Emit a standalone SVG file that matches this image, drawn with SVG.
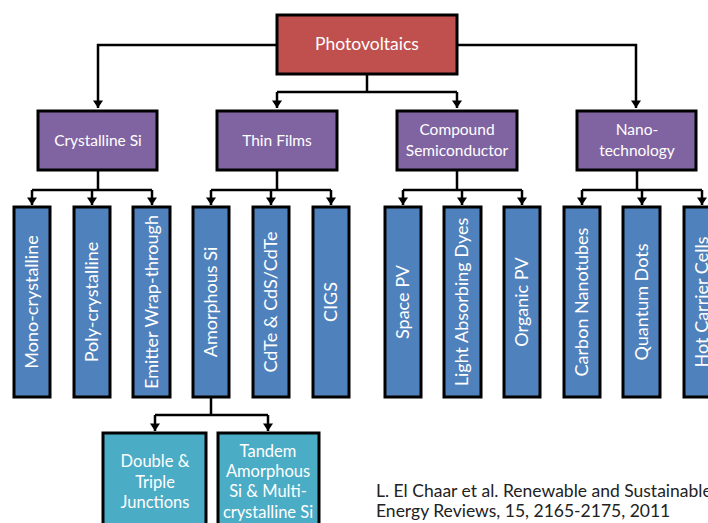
<svg xmlns="http://www.w3.org/2000/svg" width="708" height="523" viewBox="0 0 708 523">
<defs>
<marker id="arr" markerUnits="userSpaceOnUse" markerWidth="10" markerHeight="10" refX="4" refY="7" orient="0" viewBox="0 0 8 8">
<path d="M0,1 L8,1 L4,7 Z" fill="#000"/>
</marker>
<style>
.box{stroke:#000;stroke-width:3}
.red{fill:#C0504D}
.pur{fill:#8064A2}
.blu{fill:#4F81BD}
.cya{fill:#4BACC6}
.t{font-family:Lato,"Liberation Sans",sans-serif;fill:#fff;text-anchor:middle}
.v{font-size:18px}
.c{fill:none;stroke:#000;stroke-width:2.5}
.cite{font-family:Lato,"Liberation Sans",sans-serif;fill:#222;font-size:17.5px}
</style>
</defs>
<rect width="708" height="523" fill="#fff"/>
<g id="connectors" class="c">
<path d="M277,45 H98 V108" marker-end="url(#arr)"/>
<path d="M457,45 H636 V108" marker-end="url(#arr)"/>
<path d="M367,74 V92"/>
<path d="M277,92 H457"/>
<path d="M277,92 V108" marker-end="url(#arr)"/>
<path d="M457,92 V108" marker-end="url(#arr)"/>
<path d="M98,170 V190 M32,190 H152"/>
<path d="M32,190 V205" marker-end="url(#arr)"/>
<path d="M92,190 V205" marker-end="url(#arr)"/>
<path d="M152,190 V205" marker-end="url(#arr)"/>
<path d="M277,170 V190 M211,190 H331"/>
<path d="M211,190 V205" marker-end="url(#arr)"/>
<path d="M271,190 V205" marker-end="url(#arr)"/>
<path d="M331,190 V205" marker-end="url(#arr)"/>
<path d="M457,170 V190 M403,190 H522"/>
<path d="M403,190 V205" marker-end="url(#arr)"/>
<path d="M462,190 V205" marker-end="url(#arr)"/>
<path d="M522,190 V205" marker-end="url(#arr)"/>
<path d="M637,170 V190 M582,190 H702"/>
<path d="M582,190 V205" marker-end="url(#arr)"/>
<path d="M642,190 V205" marker-end="url(#arr)"/>
<path d="M702,190 V205" marker-end="url(#arr)"/>
<path d="M211,397 V415 M155,415 H268"/>
<path d="M155,415 V431" marker-end="url(#arr)"/>
<path d="M268,415 V431" marker-end="url(#arr)"/>
</g>
<g id="photovoltaics">
<rect class="box red" x="277" y="15" width="180" height="59"/>
<text class="t" x="367" y="50" font-size="17.5">Photovoltaics</text>
</g>
<g id="crystalline-si">
<rect class="box pur" x="38" y="111" width="119" height="59"/>
<text class="t" x="98" y="146" font-size="15.5">Crystalline Si</text>
</g>
<g id="thin-films">
<rect class="box pur" x="217" y="111" width="120" height="59"/>
<text class="t" x="277" y="146" font-size="15.5">Thin Films</text>
</g>
<g id="compound">
<rect class="box pur" x="397" y="111" width="120" height="59"/>
<text class="t" x="457" y="135" font-size="15.5">Compound</text>
<text class="t" x="457" y="156" font-size="15.5">Semiconductor</text>
</g>
<g id="nano">
<rect class="box pur" x="577" y="111" width="119" height="59"/>
<text class="t" x="637" y="135" font-size="15.5">Nano-</text>
<text class="t" x="637" y="156" font-size="15.5">technology</text>
</g>
<g id="mono">
<rect class="box blu" x="14" y="207" width="36" height="190"/>
<text class="t v" transform="translate(32,302) rotate(-90)" dy="0.36em">Mono-crystalline</text>
</g>
<g id="poly">
<rect class="box blu" x="74" y="207" width="36" height="190"/>
<text class="t v" transform="translate(92,302) rotate(-90)" dy="0.36em">Poly-crystalline</text>
</g>
<g id="emitter">
<rect class="box blu" x="133" y="207" width="37" height="190"/>
<text class="t v" transform="translate(152,302) rotate(-90)" dy="0.36em">Emitter Wrap-through</text>
</g>
<g id="amorphous">
<rect class="box blu" x="193" y="207" width="36" height="190"/>
<text class="t v" transform="translate(211,302) rotate(-90)" dy="0.36em">Amorphous Si</text>
</g>
<g id="cdte">
<rect class="box blu" x="253" y="207" width="36" height="190"/>
<text class="t v" transform="translate(271,302) rotate(-90)" dy="0.36em">CdTe &amp; CdS/CdTe</text>
</g>
<g id="cigs">
<rect class="box blu" x="313" y="207" width="36" height="190"/>
<text class="t v" transform="translate(331,302) rotate(-90)" dy="0.36em">CIGS</text>
</g>
<g id="space-pv">
<rect class="box blu" x="385" y="207" width="36" height="190"/>
<text class="t v" transform="translate(403,302) rotate(-90)" dy="0.36em">Space PV</text>
</g>
<g id="dyes">
<rect class="box blu" x="444" y="207" width="37" height="190"/>
<text class="t v" transform="translate(462,302) rotate(-90)" dy="0.36em">Light Absorbing Dyes</text>
</g>
<g id="organic-pv">
<rect class="box blu" x="504" y="207" width="36" height="190"/>
<text class="t v" transform="translate(522,302) rotate(-90)" dy="0.36em">Organic PV</text>
</g>
<g id="nanotubes">
<rect class="box blu" x="564" y="207" width="36" height="190"/>
<text class="t v" transform="translate(582,302) rotate(-90)" dy="0.36em">Carbon Nanotubes</text>
</g>
<g id="quantum-dots">
<rect class="box blu" x="623" y="207" width="37" height="190"/>
<text class="t v" transform="translate(642,302) rotate(-90)" dy="0.36em">Quantum Dots</text>
</g>
<g id="hot-carrier">
<rect class="box blu" x="684" y="207" width="36" height="190"/>
<text class="t v" transform="translate(702,302) rotate(-90)" dy="0.36em">Hot Carrier Cells</text>
</g>
<g id="double-triple">
<rect class="box cya" x="103" y="433" width="103" height="100"/>
<text class="t" x="155" y="467" font-size="16.5">Double &amp;</text>
<text class="t" x="155" y="488" font-size="16.5">Triple</text>
<text class="t" x="155" y="508" font-size="16.5">Junctions</text>
</g>
<g id="tandem">
<rect class="box cya" x="218" y="433" width="101" height="100"/>
<text class="t" x="268" y="457" font-size="16.5">Tandem</text>
<text class="t" x="268" y="477" font-size="16.5">Amorphous</text>
<text class="t" x="268" y="497" font-size="16.5">Si &amp; Multi-</text>
<text class="t" x="268" y="518" font-size="16.5">crystalline Si</text>
</g>
<g id="citation">
<text class="cite" x="376" y="497">L. El Chaar et al. Renewable and Sustainable</text>
<text class="cite" x="376" y="517">Energy Reviews, 15, 2165-2175, 2011</text>
</g>
</svg>
